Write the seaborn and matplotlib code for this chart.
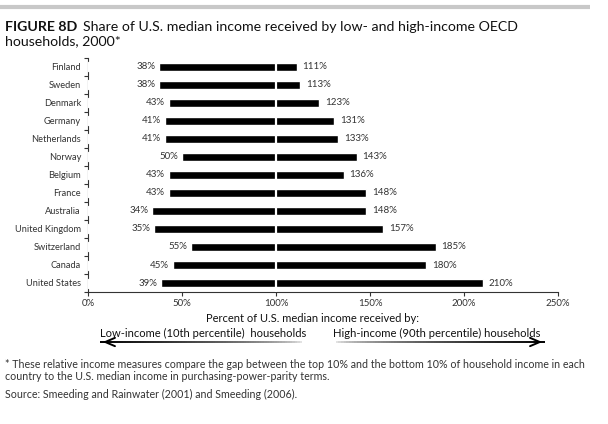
# Figure 8D: share of U.S. median income for low- and high-income households, OECD 2000
import numpy as np
import pandas as pd
import matplotlib
matplotlib.use("Agg")
import matplotlib.pyplot as plt
from matplotlib.collections import LineCollection
import seaborn as sns

countries = ["Finland", "Sweden", "Denmark", "Germany", "Netherlands", "Norway", "Belgium",
             "France", "Australia", "United Kingdom", "Switzerland", "Canada", "United States"]
low_income = [38, 38, 43, 41, 41, 50, 43, 43, 34, 35, 55, 45, 39]
high_income = [111, 113, 123, 131, 133, 143, 136, 148, 148, 157, 185, 180, 210]
x_ticks = [0, 50, 100, 150, 200, 250]

df = pd.DataFrame({"country": countries, "low": low_income, "high": high_income})

sns.set_style("white")
plt.rcParams['font.family'] = ['Lato', 'DejaVu Sans']
txt = '#333333'

fig = plt.figure(figsize=(6.08, 4.24), dpi=100)
ax = fig.add_axes([88 / 608, 1 - 292 / 424, 470 / 608, 234 / 424])

# black bars up to the high value, white bars mask everything left of the low value
sns.barplot(data=df, x="high", y="country", color="black", width=0.44, errorbar=None,
            saturation=1, ax=ax, zorder=2)
sns.barplot(data=df, x="low", y="country", color="white", width=0.5, errorbar=None,
            saturation=1, ax=ax, zorder=3)
ax.axvline(100, color="white", lw=1.6, zorder=4)

for i, row in df.iterrows():
    ax.text(row["low"] - 2, i, f'{row["low"]}%', ha='right', va='center', fontsize=7, color=txt)
    ax.text(row["high"] + 3, i, f'{row["high"]}%', ha='left', va='center', fontsize=7, color=txt)

ax.set_xlim(0, 250)
ax.set_ylim(len(countries) - 0.5, -0.5)
ax.set_xticks(x_ticks)
ax.set_xticklabels([f'{t}%' for t in x_ticks])
ax.set_yticks(np.arange(len(countries)))
ax.set_yticklabels(countries)
ax.set_yticks(np.arange(-0.5, len(countries)), minor=True)
ax.tick_params(axis='y', which='major', length=0, pad=5, labelsize=6.7, labelcolor=txt)
ax.tick_params(axis='y', which='minor', length=3, width=0.8, color='#333333', direction='out', left=True)
ax.tick_params(axis='x', length=3, width=0.8, color='#333333', direction='out', bottom=True,
               labelsize=7, labelcolor=txt, pad=2)
ax.set_xlabel("")
ax.set_ylabel("")
for pos in ['right', 'top']:
    ax.spines[pos].set_visible(False)
for pos in ['left', 'bottom']:
    ax.spines[pos].set_color('#333333')
    ax.spines[pos].set_linewidth(0.8)

# overlay in pixel coordinates for title, notes and arrows
ov = fig.add_axes([0, 0, 1, 1], zorder=-1)
ov.set_xlim(0, 608)
ov.set_ylim(424, 0)
ov.axis('off')

ov.plot([0, 590], [6.5, 6.5], color='#c8c8c8', lw=3, solid_capstyle='butt')

t1 = ov.text(5, 27, "FIGURE 8D", fontsize=10.2, fontweight='bold', va='center', color='#111111')
fig.canvas.draw()
bb = t1.get_window_extent().transformed(ov.transData.inverted())
ov.text(bb.x1 + 6, 27, "Share of U.S. median income received by low- and high-income OECD",
        fontsize=10.2, va='center', color='#111111')
ov.text(5, 41, "households, 2000*", fontsize=10.2, va='center', color='#111111')

ov.text(313, 318, "Percent of U.S. median income received by:", fontsize=8, ha='center', va='center', color='#111111')
ov.text(100, 333, "Low-income (10th percentile)  households", fontsize=8, ha='left', va='center', color='#111111')
ov.text(333, 333, "High-income (90th percentile) households", fontsize=8.1, ha='left', va='center', color='#111111')


def gradient_arrow(x_from, x_to, y):
    # line fades out toward x_from and ends in an open head at x_to
    n = 80
    xs = np.linspace(x_from, x_to, n + 1)
    segs = [[(xs[k], y), (xs[k + 1], y)] for k in range(n)]
    shade = 1 - np.linspace(0, 1, n) ** 0.5
    cols = [(s, s, s) for s in shade]
    ov.add_collection(LineCollection(segs, colors=cols, linewidths=1.4))
    ov.annotate("", xy=(x_to, y), xytext=(x_to + (8 if x_to < x_from else -8), y),
                arrowprops=dict(arrowstyle='->,head_length=0.7,head_width=0.3', color='black', lw=1.4))


gradient_arrow(305, 100, 342)
gradient_arrow(333, 545, 342)

ov.text(5, 364, "* These relative income measures compare the gap between the top 10% and the bottom 10% of household income in each",
        fontsize=7.7, va='center', color=txt)
ov.text(5, 377, "country to the U.S. median income in purchasing-power-parity terms.",
        fontsize=7.7, va='center', color=txt)
ov.text(5, 394, "Source: Smeeding and Rainwater (2001) and Smeeding (2006).",
        fontsize=7.7, va='center', color=txt)

plt.savefig("out.png", dpi=100)
